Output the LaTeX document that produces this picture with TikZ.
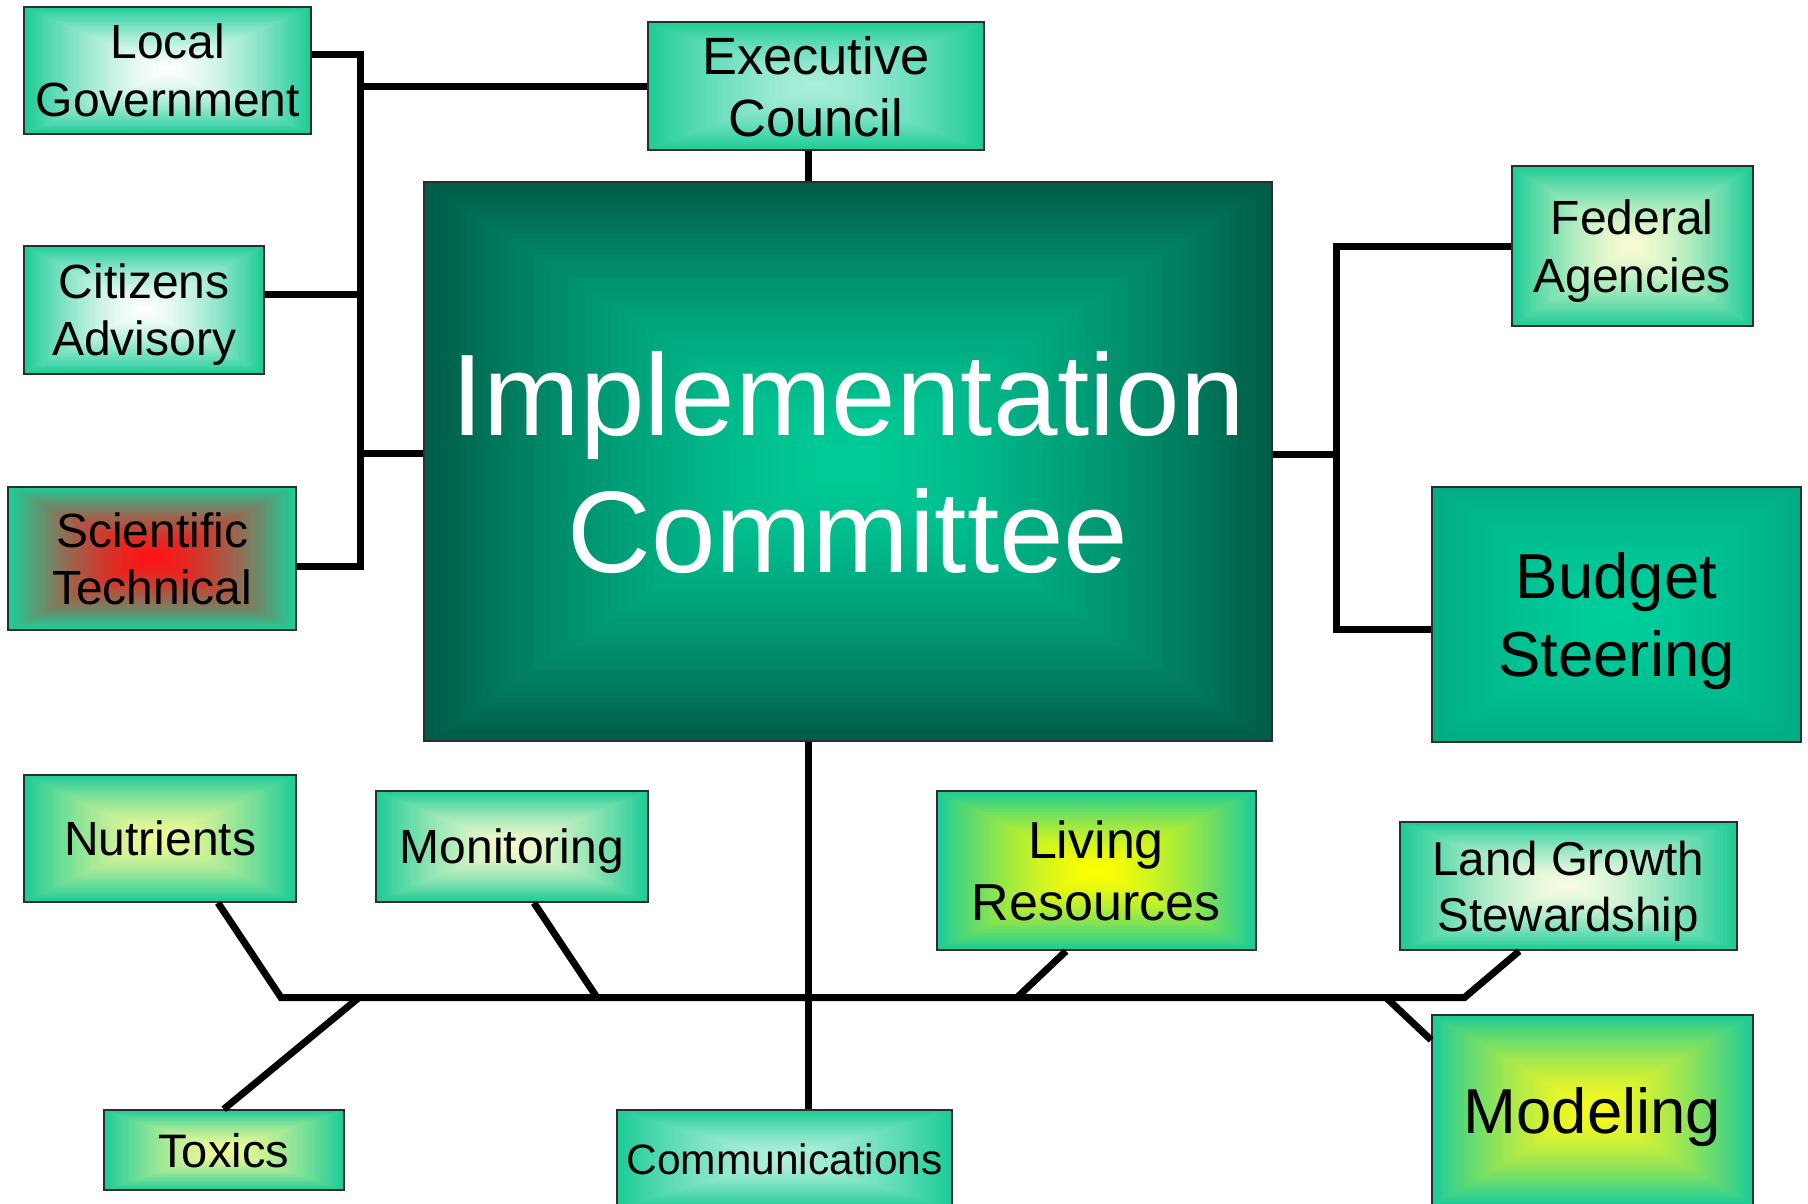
\documentclass[tikz,border=0pt]{standalone}
\usepackage{fontspec}
\setmainfont{Liberation Sans}
\usetikzlibrary{calc}
\definecolor{edgeg}{RGB}{30,204,152}
\definecolor{boxline}{RGB}{45,45,45}
\definecolor{whitein}{RGB}{255,255,255}
\definecolor{execin}{RGB}{172,238,220}
\definecolor{redin}{RGB}{255,18,18}
\definecolor{implout}{RGB}{0,94,72}
\definecolor{implin}{RGB}{0,204,152}
\definecolor{fedin}{RGB}{250,252,210}
\definecolor{budout}{RGB}{0,172,132}
\definecolor{budin}{RGB}{0,206,156}
\definecolor{nutin}{RGB}{242,250,150}
\definecolor{monin}{RGB}{246,250,205}
\definecolor{livin}{RGB}{255,255,0}
\definecolor{landin}{RGB}{248,252,225}
\definecolor{toxin}{RGB}{242,250,150}
\definecolor{commin}{RGB}{178,240,222}
\definecolor{modin}{RGB}{250,250,30}
\tikzset{
  box/.style={draw=boxline, line width=2pt, rectangle, inner sep=0pt, align=center, text=black, text depth=0pt},
  pyr/.style 2 args={fill=#2, path picture={
     \foreach \gi in {1,...,49}{
       \pgfmathsetmacro\gsc{1-\gi/50}
       \pgfmathtruncatemacro\gpc{100*(1-(\gsc)^1.5)}
       \fill[#1!\gpc!#2] ($(path picture bounding box.center)!\gsc!(path picture bounding box.north west)$) rectangle ($(path picture bounding box.center)!\gsc!(path picture bounding box.south east)$);
     }
  }},
  conn/.style={line width=7pt, black, line join=miter},
}
\begin{document}
\begin{tikzpicture}[x=1pt,y=-1pt]
\useasboundingbox (0,0) rectangle (1808,1203);
\clip (0,0) rectangle (1808,1203);
\fill[white] (0,0) rectangle (1808,1203);

% nodes
\node[box, pyr={whitein}{edgeg}, minimum width=287pt, minimum height=127pt, font=\fontsize{48}{57.6}\selectfont] (lg) at (167.8,70.3) {Local\\Government};
\node[box, pyr={execin}{edgeg}, minimum width=336pt, minimum height=128pt, font=\fontsize{52.5}{62}\selectfont] (exec) at (815.8,86) {Executive\\Council};
\node[box, pyr={whitein}{edgeg}, minimum width=240pt, minimum height=128pt, font=\fontsize{48}{57.6}\selectfont] (cit) at (144.1,309.6) {Citizens\\Advisory};
\node[box, pyr={redin}{edgeg}, minimum width=288pt, minimum height=143pt, font=\fontsize{48}{57}\selectfont] (sci) at (152.2,558.1) {Scientific\\Technical};
\node[box, pyr={implin}{implout}, text=white, minimum width=848pt, minimum height=559pt, font=\fontsize{116}{137}\selectfont] (impl) at (848.1,461.8) {Implementation\\Committee};
\node[box, pyr={fedin}{edgeg}, minimum width=241pt, minimum height=160pt, font=\fontsize{48}{57.6}\selectfont] (fed) at (1632.2,246.2) {Federal\\Agencies};
\node[box, pyr={budin}{budout}, minimum width=369pt, minimum height=255pt, font=\fontsize{63.5}{78}\selectfont] (bud) at (1616.6,614) {Budget\\Steering};
\node[box, pyr={nutin}{edgeg}, minimum width=272pt, minimum height=127pt, font=\fontsize{48}{57.6}\selectfont] (nut) at (160.3,838.3) {Nutrients};
\node[box, pyr={monin}{edgeg}, minimum width=272pt, minimum height=111pt, font=\fontsize{48}{57.6}\selectfont] (mon) at (512,846.4) {Monitoring};
\node[box, pyr={livin}{edgeg}, minimum width=319pt, minimum height=159pt, font=\fontsize{52}{62}\selectfont] (liv) at (1096,870.6) {Living\\Resources};
\node[box, pyr={landin}{edgeg}, minimum width=337pt, minimum height=128pt, font=\fontsize{47.5}{56}\selectfont] (land) at (1568.2,886.1) {Land Growth\\Stewardship};
\node[box, pyr={toxin}{edgeg}, minimum width=240pt, minimum height=80pt, font=\fontsize{47}{56}\selectfont] (tox) at (223.7,1150.2) {Toxics};
\node[box, pyr={commin}{edgeg}, minimum width=335.5pt, minimum height=98pt, font=\fontsize{42.5}{51}\selectfont] (comm) at (784.6,1159) {Communications};
\node[box, pyr={modin}{edgeg}, minimum width=320.6pt, minimum height=190pt, font=\fontsize{63.5}{76}\selectfont] (mod) at (1592.4,1110) {Modeling};

% junction coordinates
\coordinate (lbt) at (360,54.5);
\coordinate (lbx) at (360,86);
\coordinate (lbc) at (360,294);
\coordinate (lbi) at (360,453.6);
\coordinate (lbb) at (360,566);
\coordinate (rbt) at (1336.4,246.2);
\coordinate (rbi) at (1336.4,454);
\coordinate (rbb) at (1336.4,629.6);
\coordinate (vx) at (808.5,997.5);
\coordinate (bl) at (281,997.5);
\coordinate (br) at (1464.5,997.5);
\coordinate (btox) at (359,997.5);
\coordinate (bmon) at (597,997.5);
\coordinate (bliv) at (1017,997.5);
\coordinate (bmod) at (1386,997.5);

% connectors
\draw[conn] (lg.east |- lbt) -- (lbt) -- (lbb) -- (sci.east |- lbb);
\draw[conn] (exec.west) -- (lbx);
\draw[conn] (cit.east |- lbc) -- (lbc);
\draw[conn] (impl.west |- lbi) -- (lbi);
\draw[conn] (exec.south -| vx) -- (impl.north -| vx);
\draw[conn] (fed.west) -- (rbt) -- (rbb) -- (bud.west |- rbb);
\draw[conn] (impl.east |- rbi) -- (rbi);
\draw[conn] (impl.south -| vx) -- (comm.north -| vx);
\draw[conn] ([xshift=57.7pt]nut.south) -- (bl) -- (br) -- ([xshift=-49pt]land.south);
\draw[conn] ([xshift=22pt]mon.south) -- (bmon);
\draw[conn] (btox) -- (tox.north);
\draw[conn] ([xshift=-30pt]liv.south) -- (bliv);
\draw[conn] (bmod) -- ([yshift=-26pt]mod.north west);
\end{tikzpicture}
\end{document}
